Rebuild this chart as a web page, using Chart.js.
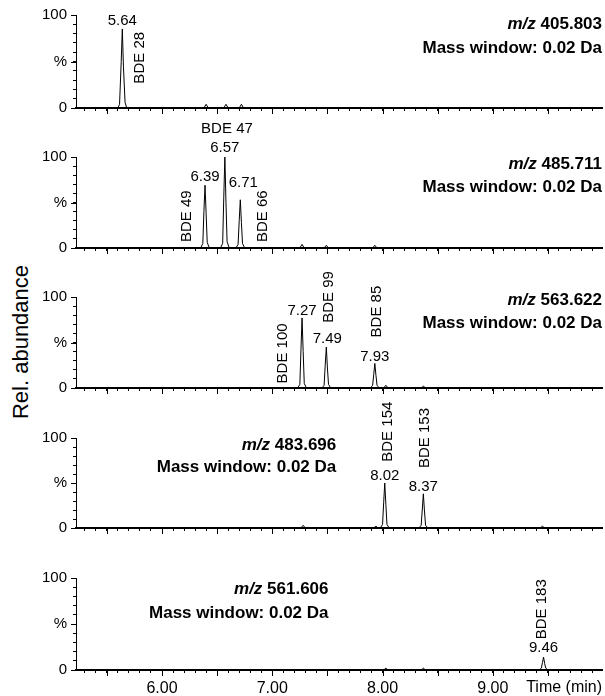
<!DOCTYPE html>
<html>
<head>
<meta charset="utf-8">
<script src="https://cdn.jsdelivr.net/npm/chart.js@4.4.1/dist/chart.umd.min.js"></script>
<style>
  html, body { margin: 0; padding: 0; background: #fff; }
  #wrap { position: relative; width: 605px; height: 696px; overflow: hidden; }
  #wrap canvas { position: absolute; left: 0; }
  #ytitle {
    position: absolute; left: 21px; top: 342px;
    transform: translate(-50%, -50%) rotate(-90deg);
    font: 22px "Liberation Sans", Arial, sans-serif;
    white-space: nowrap; color: #000;
  }
</style>
</head>
<body>
<div id="wrap">
  <div id="ytitle">Rel. abundance</div>
</div>
<script>
'use strict';

// ── Data ──────────────────────────────────────────────────────────────────────
const xMin = 5.22, xMax = 9.99;
const xTickLabels = ['6.00', '7.00', '8.00', '9.00'];
const yTickLabels = { 0: '0', 50: '%', 100: '100' };
const xTitle = 'Time (min)';

const massValues = ['405.803', '485.711', '563.622', '483.696', '561.606'];
const massWindow = 'Mass window: 0.02 Da';

// trace points (time in min, relative abundance in %)
const p1Time  = [5.22, 5.60, 5.615, 5.63, 5.64, 5.65, 5.665, 5.68, 6.38, 6.40, 6.42, 6.56, 6.58, 6.60, 6.70, 6.72, 6.74, 9.99];
const p1Abund = [0,    0,    4,     50,   85,   45,   6,     0,    0,    4,    0,    0,    4,    0,    0,    4,    0,    0];

const p2Time  = [5.22, 6.35, 6.37, 6.38, 6.39, 6.40, 6.41, 6.43, 6.53, 6.55, 6.56, 6.57, 6.58, 6.59, 6.61,
                 6.67, 6.69, 6.70, 6.71, 6.72, 6.73, 6.75, 7.25, 7.27, 7.29, 7.47, 7.49, 7.51, 7.91, 7.93, 7.95, 9.99];
const p2Abund = [0,    0,    5,    40,   69,   38,   6,    0,    0,    5,    55,   100,  50,   7,    0,
                 0,    4,    30,   53,   28,   5,    0,    0,    4,    0,    0,    3,    0,    0,    3,    0,    0];

const p3Time  = [5.22, 7.23, 7.25, 7.26, 7.27, 7.28, 7.29, 7.31, 7.45, 7.47, 7.48, 7.49, 7.50, 7.51, 7.53,
                 7.89, 7.91, 7.92, 7.93, 7.94, 7.95, 7.97, 8.01, 8.03, 8.05, 8.35, 8.37, 8.39, 9.99];
const p3Abund = [0,    0,    4,    42,   77,   40,   5,    0,    0,    3,    25,   45,   22,   4,    0,
                 0,    3,    15,   27,   14,   3,    0,    0,    3,    0,    0,    2,    0,    0];

const p4Time  = [5.22, 7.26, 7.28, 7.30, 7.92, 7.94, 7.96, 7.98, 8.00, 8.01, 8.02, 8.03, 8.04, 8.06,
                 8.33, 8.35, 8.36, 8.37, 8.38, 8.39, 8.41, 9.43, 9.45, 9.47, 9.99];
const p4Abund = [0,    0,    3,    0,    0,    2,    0,    0,    4,    28,   50,   26,   4,    0,
                 0,    3,    20,   38,   19,   3,    0,    0,    2,    0,    0];

const p5Time  = [5.22, 8.01, 8.03, 8.05, 8.35, 8.37, 8.39, 9.42, 9.44, 9.45, 9.46, 9.47, 9.48, 9.50, 9.99];
const p5Abund = [0,    0,    2,    0,    0,    2,    0,    0,    2,    8,    14,   7,    2,    0,    0];

// labelled peaks (retention times) and congener names
const peakTimes = [[5.64], [6.39, 6.57, 6.71], [7.27, 7.49, 7.93], [8.02, 8.37], [9.46]];
const peakNames = [['BDE 28'], ['BDE 49', 'BDE 47', 'BDE 66'], ['BDE 100', 'BDE 99', 'BDE 85'], ['BDE 154', 'BDE 153'], ['BDE 183']];

// ── Layout (page pixels / label anchors) ─────────────────────────────────────
const FONT = '"Liberation Sans", Arial, sans-serif';
const PAD_TOP = 40, X_AXIS_H = 30;
const majorX = [5.5, 6, 6.5, 7, 7.5, 8, 8.5, 9, 9.5];
const majorY = [0, 50, 100];

const panels = [
  { series: [p1Time, p1Abund], top: 15,  bottom: 108, info: { at: null, dy: [9, 33] },
    rtShift: [[0, -8]],
    names: [{ t: 5.80, v: 54, rot: true }] },
  { series: [p2Time, p2Abund], top: 157, bottom: 248, info: { at: null, dy: [7, 30] },
    rtShift: [[0, -8], [0, -9], [3, -17]],
    names: [{ t: 6.227, v: 35, rot: true }, { t: 6.589, v: 131, rot: false }, { t: 6.916, v: 35, rot: true }] },
  { series: [p3Time, p3Abund], top: 297, bottom: 388, info: { at: null, dy: [3, 26] },
    rtShift: [[0, -7], [1, -8], [0, -7]],
    names: [{ t: 7.097, v: 38, rot: true }, { t: 7.514, v: 100, rot: true }, { t: 7.949, v: 84, rot: true }] },
  { series: [p4Time, p4Abund], top: 438, bottom: 528, info: { at: 7.58, dy: [7, 29] },
    rtShift: [[0, -7], [0, -7]],
    names: [{ t: 8.049, v: 107, rot: true }, { t: 8.384, v: 100, rot: true }] },
  { series: [p5Time, p5Abund], top: 578, bottom: 670, info: { at: 7.51, dy: [11, 35] },
    rtShift: [[0, -9]],
    names: [{ t: 9.445, v: 66, rot: true }] },
];

// ── Drawing helpers ──────────────────────────────────────────────────────────
function makeDecor(idx) {
  const p = panels[idx];
  const last = idx === panels.length - 1;
  return {
    id: 'decor' + idx,
    afterDraw(chart) {
      const { ctx, chartArea: ca, scales: { x, y } } = chart;
      ctx.save();
      ctx.strokeStyle = '#000';
      ctx.fillStyle = '#000';
      ctx.lineWidth = 1;

      // longer ticks
      ctx.beginPath();
      majorX.forEach(t => {
        const px = Math.round(x.getPixelForValue(t)) + 0.5;
        ctx.moveTo(px, ca.bottom);
        ctx.lineTo(px, ca.bottom + 6);
      });
      majorY.forEach(v => {
        const py = Math.round(y.getPixelForValue(v)) + 0.5;
        ctx.moveTo(ca.left - 5, py);
        ctx.lineTo(ca.left, py);
      });
      ctx.stroke();

      // retention time labels
      const [times, vals] = p.series;
      ctx.font = '15px ' + FONT;
      ctx.textAlign = 'center';
      ctx.textBaseline = 'middle';
      peakTimes[idx].forEach((rt, i) => {
        const h = vals[times.indexOf(rt)];
        const [dx, dy] = p.rtShift[i];
        ctx.fillText(rt.toFixed(2), x.getPixelForValue(rt) + dx, y.getPixelForValue(h) + dy);
      });

      // congener names
      peakNames[idx].forEach((name, i) => {
        const a = p.names[i];
        ctx.save();
        ctx.translate(x.getPixelForValue(a.t), y.getPixelForValue(a.v));
        if (a.rot) ctx.rotate(-Math.PI / 2);
        ctx.fillText(name, 0, 0);
        ctx.restore();
      });

      // m/z + mass window
      const xr = p.info.at == null ? ca.right : x.getPixelForValue(p.info.at);
      const y1 = ca.top + p.info.dy[0], y2 = ca.top + p.info.dy[1];
      ctx.textAlign = 'right';
      ctx.font = 'bold 17px ' + FONT;
      const num = ' ' + massValues[idx];
      const numW = ctx.measureText(num).width;
      ctx.fillText(num, xr, y1);
      ctx.fillText(massWindow, xr, y2);
      ctx.font = 'italic bold 17px ' + FONT;
      ctx.fillText('m/z', xr - numW, y1);

      if (last) {
        ctx.font = '16px ' + FONT;
        ctx.textAlign = 'right';
        ctx.fillText(xTitle, ca.right, ca.bottom + 18);
      }
      ctx.restore();
    }
  };
}

// ── Build panels ─────────────────────────────────────────────────────────────
const wrap = document.getElementById('wrap');

panels.forEach((p, idx) => {
  const last = idx === panels.length - 1;
  const cv = document.createElement('canvas');
  const h = (p.bottom - p.top) + PAD_TOP + X_AXIS_H;
  cv.width = 605;
  cv.height = h;
  cv.style.top = (p.top - PAD_TOP) + 'px';
  cv.style.width = '605px';
  cv.style.height = h + 'px';
  wrap.appendChild(cv);

  const [times, vals] = p.series;

  new Chart(cv, {
    type: 'line',
    data: {
      datasets: [{
        data: times.map((t, i) => ({ x: t, y: vals[i] })),
        borderColor: '#000',
        borderWidth: 1,
        pointRadius: 0,
        tension: 0,
        fill: false,
        clip: 4,
      }]
    },
    options: {
      responsive: false,
      animation: false,
      devicePixelRatio: 1,
      layout: { padding: { top: PAD_TOP, right: 3, left: 0, bottom: 0 } },
      plugins: { legend: { display: false }, tooltip: { enabled: false } },
      scales: {
        x: {
          type: 'linear', min: xMin, max: xMax,
          afterFit: s => { s.height = X_AXIS_H; },
          border: { display: true, color: '#000', width: 2 },
          grid: { drawOnChartArea: false, drawTicks: true, tickLength: 3, tickColor: '#000', tickWidth: 1 },
          ticks: {
            display: last, stepSize: 0.1, includeBounds: false, autoSkip: false,
            maxRotation: 0, color: '#000', padding: 6, font: { family: FONT, size: 16 },
            callback: v => { const s = Number(v).toFixed(2); return xTickLabels.includes(s) ? s : ''; }
          }
        },
        y: {
          min: 0, max: 100,
          afterFit: s => { s.width = 76; },
          border: { display: true, color: '#000', width: 1 },
          grid: { drawOnChartArea: false, drawTicks: true, tickLength: 3, tickColor: '#000', tickWidth: 1 },
          ticks: {
            stepSize: 10, autoSkip: false, color: '#000', padding: 6,
            font: { family: FONT, size: 15 },
            callback: v => yTickLabels[v] ?? ''
          }
        }
      }
    },
    plugins: [makeDecor(idx)]
  });
});
</script>
</body>
</html>
